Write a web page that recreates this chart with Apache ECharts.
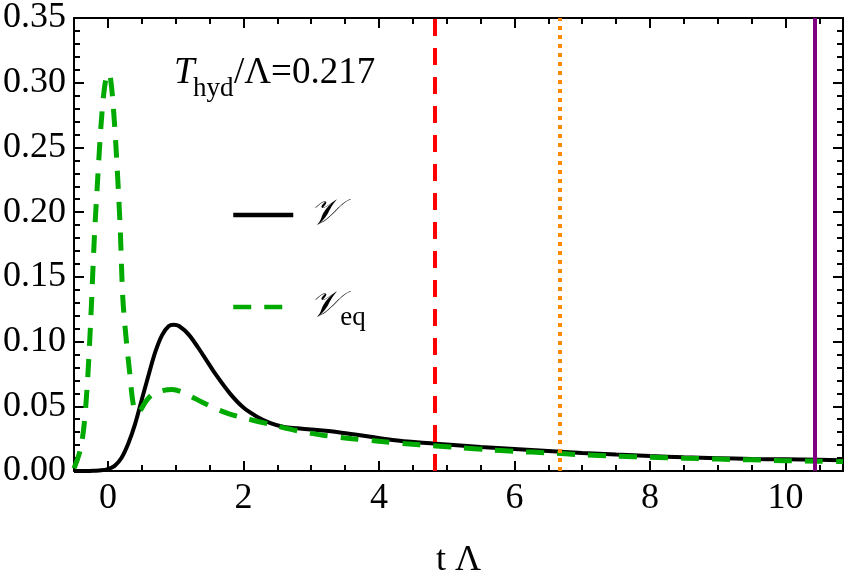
<!DOCTYPE html>
<html>
<head>
<meta charset="utf-8">
<script src="https://cdn.jsdelivr.net/npm/echarts@6/dist/echarts.min.js"></script>
<style>
  html, body { margin: 0; padding: 0; background: #fff; }
  #chart { width: 848px; height: 584px; }
</style>
</head>
<body>
<div id="chart"></div>
<script>
// V (solid black)
const tV = [-0.5, -0.3, -0.2, -0.1, 0, 0.1, 0.2, 0.3, 0.4, 0.5, 0.6, 0.7, 0.8, 0.9, 0.97, 1.05, 1.2, 1.4, 1.6, 1.8, 2.0, 2.2, 2.4, 2.6, 2.8, 3.0, 3.4, 3.8, 4.2, 4.6, 5.0, 5.5, 6.0, 6.5, 7.0, 7.5, 8.0, 8.5, 9.0, 9.5, 10.0, 10.5, 10.85]
const vV = [0, 0, 0.0002, 0.0005, 0.0015, 0.004, 0.010, 0.021, 0.036, 0.055, 0.074, 0.092, 0.105, 0.112, 0.113, 0.112, 0.105, 0.090, 0.074, 0.060, 0.049, 0.042, 0.037, 0.034, 0.033, 0.032, 0.030, 0.027, 0.024, 0.022, 0.0205, 0.0185, 0.017, 0.0155, 0.014, 0.0127, 0.0116, 0.0106, 0.0099, 0.0093, 0.009, 0.0087, 0.0084]

// V_eq (dashed green)
const tVeq = [-0.5, -0.45, -0.4, -0.35, -0.3, -0.25, -0.2, -0.15, -0.1, -0.05, 0, 0.03, 0.07, 0.12, 0.18, 0.22, 0.27, 0.32, 0.37, 0.42, 0.48, 0.55, 0.65, 0.8, 0.95, 1.1, 1.25, 1.4, 1.6, 1.8, 2.0, 2.4, 2.8, 3.2, 3.6, 4.0, 4.4, 4.8, 5.2, 5.6, 6.0, 6.5, 7.0, 7.5, 8.0, 8.5, 9.0, 9.5, 10.0, 10.5, 10.85]
const vVeq = [0.002, 0.009, 0.018, 0.036, 0.07, 0.12, 0.18, 0.226, 0.268, 0.296, 0.307, 0.306, 0.288, 0.25, 0.19, 0.134, 0.102, 0.077, 0.053, 0.045, 0.047, 0.053, 0.059, 0.062, 0.063, 0.061, 0.057, 0.053, 0.048, 0.044, 0.041, 0.036, 0.031, 0.0275, 0.025, 0.023, 0.021, 0.0195, 0.018, 0.0165, 0.0152, 0.014, 0.0125, 0.0115, 0.0107, 0.0099, 0.0092, 0.0086, 0.008, 0.0076, 0.0073]

// vertical markers: red dashed, orange dotted, purple solid
const markTimes = [4.82, 6.67, 10.43]

const xMajor = [0, 2, 4, 6, 8, 10]
const xMinor = [-0.5, 0.5, 1, 1.5, 2.5, 3, 3.5, 4.5, 5, 5.5, 6.5, 7, 7.5, 8.5, 9, 9.5, 10.5]

const zip = (xs, ys) => xs.map((x, i) => [x, ys[i]])
const serif = 'Liberation Serif'

const chart = echarts.init(document.getElementById('chart'))

function xAx(pos, ticks, len, opts) {
  return Object.assign({
    type: 'value',
    position: pos,
    min: -0.5,
    max: 10.85,
    axisLine: { show: true, onZero: false, lineStyle: { color: '#000', width: 2 } },
    axisTick: { show: true, inside: true, length: len, customValues: ticks, lineStyle: { color: '#000', width: 2 } },
    axisLabel: { show: false },
    splitLine: { show: false }
  }, opts || {})
}

function yAx(pos, showLabel) {
  return {
    type: 'value',
    position: pos,
    min: 0,
    max: 0.35,
    interval: 0.05,
    axisLine: { show: true, onZero: false, lineStyle: { color: '#000', width: 2 } },
    axisTick: { show: true, inside: true, length: 10, lineStyle: { color: '#000', width: 2 } },
    minorTick: { show: true, splitNumber: 5, length: 6, lineStyle: { color: '#000', width: 2 } },
    axisLabel: {
      show: showLabel,
      margin: 8,
      fontFamily: serif,
      fontSize: 36,
      color: '#000',
      formatter: v => v.toFixed(2)
    },
    splitLine: { show: false },
    minorSplitLine: { show: false }
  }
}

const vLine = (x, color, type) => ({
  xAxis: x,
  lineStyle: { color: color, width: 4, type: type }
})

chart.setOption({
  animation: false,
  grid: { left: 71, right: 5, top: 14, bottom: 91 },
  xAxis: [
    xAx('bottom', xMajor, 10, {
      axisLabel: { show: true, customValues: xMajor, margin: 10, fontFamily: serif, fontSize: 36, color: '#000' },
      name: 't Λ',
      nameLocation: 'middle',
      nameGap: 72,
      nameTextStyle: { fontFamily: serif, fontSize: 36, color: '#000' }
    }),
    xAx('bottom', xMinor, 6),
    xAx('top', xMajor, 10),
    xAx('top', xMinor, 6)
  ],
  yAxis: [yAx('left', true), yAx('right', false)],
  legend: {
    orient: 'vertical',
    left: 226,
    top: 192,
    itemWidth: 60,
    itemHeight: 14,
    itemGap: 56,
    itemStyle: { opacity: 0 },
    lineStyle: { width: 4.5 },
    data: ['V', 'Veq'],
    formatter: name => name === 'V' ? '{v|𝒱}' : '{v|𝒱}{e|eq}',
    textStyle: {
      color: '#000',
      padding: [0, 0, 0, 12],
      rich: {
        v: { fontFamily: 'DejaVu Serif', fontStyle: 'italic', fontSize: 36, color: '#000' },
        e: { fontFamily: serif, fontSize: 27, color: '#000', padding: [22, 0, 0, 0] }
      }
    }
  },
  graphic: [
    { type: 'text', left: 174, top: 55, style: { text: 'T', font: 'italic 37px "Liberation Serif"', fill: '#000' } },
    { type: 'text', left: 193, top: 75, style: { text: 'hyd', font: '27px "Liberation Serif"', fill: '#000' } },
    { type: 'text', left: 234, top: 55, style: { text: '/Λ=0.217', font: '37px "Liberation Serif"', fill: '#000' } }
  ],
  series: [
    {
      name: 'V',
      type: 'line',
      data: zip(tV, vV),
      showSymbol: false,
      symbol: 'none',
      smooth: 0.3,
      lineStyle: { color: '#000', width: 4 },
      itemStyle: { color: '#000' },
      z: 3,
      markLine: {
        silent: true,
        symbol: 'none',
        label: { show: false },
        data: [
          vLine(markTimes[0], '#ff0000', [17, 12]),
          vLine(markTimes[1], '#ff8a00', [4, 5]),
          vLine(markTimes[2], '#800080', 'solid')
        ]
      }
    },
    {
      name: 'Veq',
      type: 'line',
      data: zip(tVeq, vVeq),
      showSymbol: false,
      symbol: 'none',
      smooth: 0.3,
      lineStyle: { color: '#00aa00', width: 5, type: [18, 13] },
      itemStyle: { color: '#00aa00' },
      z: 4
    }
  ]
})
</script>
</body>
</html>
